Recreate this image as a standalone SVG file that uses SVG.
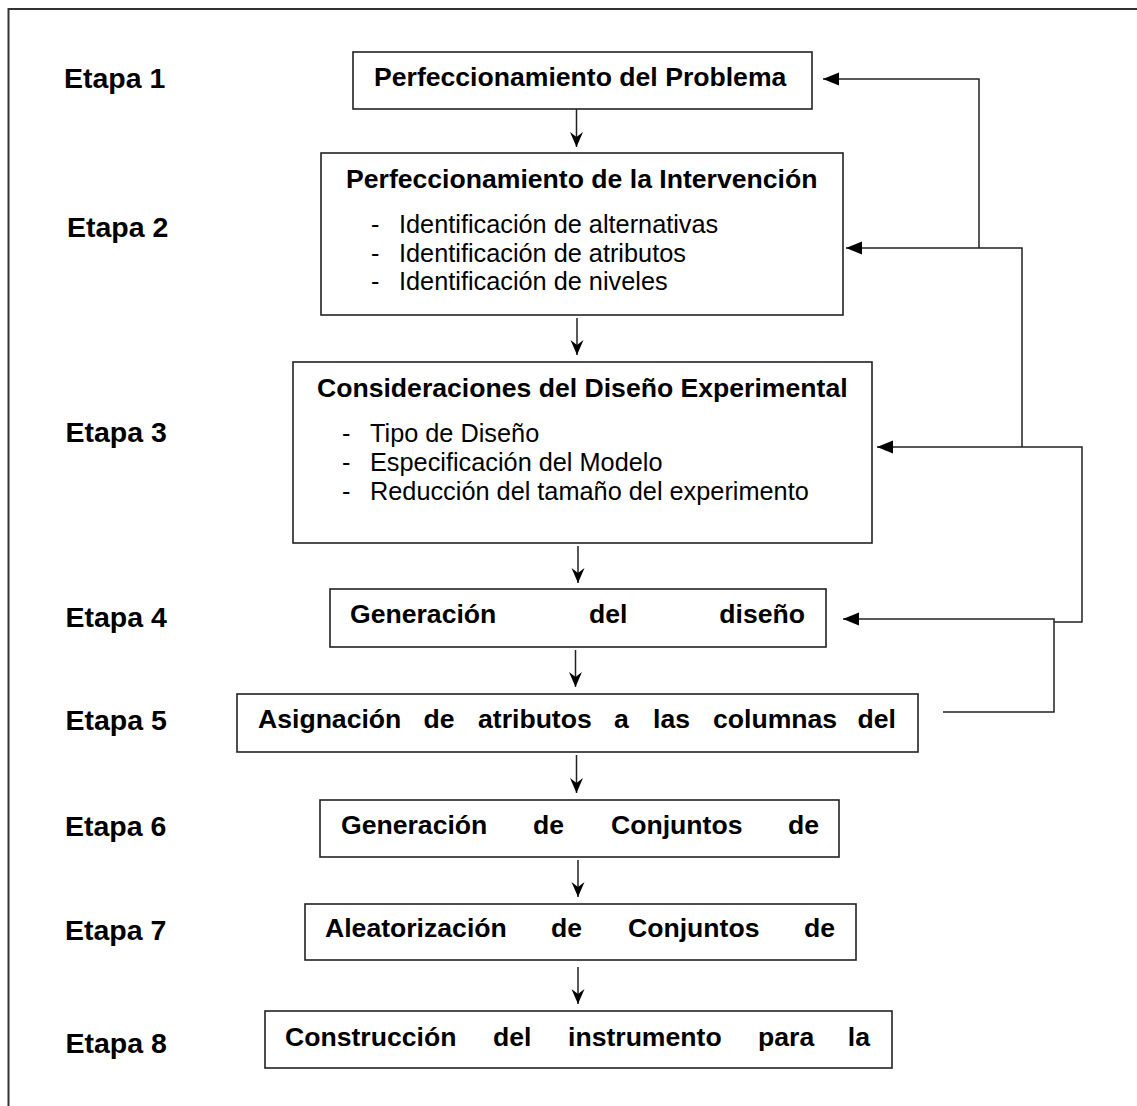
<svg xmlns="http://www.w3.org/2000/svg" width="1137" height="1106" viewBox="0 0 1137 1106">
<defs>
<style>
.box{fill:#fff;stroke:#222;stroke-width:1.6}
.lbl{font-family:"Liberation Sans",Arial,sans-serif;font-weight:bold;font-size:28.5px;fill:#000}
.ttl{font-family:"Liberation Sans",Arial,sans-serif;font-weight:bold;font-size:26.6px;fill:#000}
.itm{font-family:"Liberation Sans",Arial,sans-serif;font-size:25.3px;fill:#000}
.con{fill:none;stroke:#222;stroke-width:1.5}
.frame{fill:none;stroke:#333;stroke-width:2}
</style>
<marker id="down" markerUnits="userSpaceOnUse" markerWidth="16" markerHeight="14" refX="15" refY="7" orient="auto" viewBox="0 0 16 14">
<path d="M0,0.5 L15,7 L0,13.5 L5,7 Z" fill="#000"/>
</marker>
<marker id="left" markerUnits="userSpaceOnUse" markerWidth="16" markerHeight="14" refX="16" refY="7" orient="auto" viewBox="0 0 16 14">
<path d="M0,0.5 L16,7 L0,13.5 Z" fill="#000"/>
</marker>
</defs>
<rect width="1137" height="1106" fill="#fff"/>
<path class="frame" d="M8.5,1106 V9 H1137"/>

<g id="labels">
<text class="lbl" x="64" y="88">Etapa 1</text>
<text class="lbl" x="67" y="237">Etapa 2</text>
<text class="lbl" x="65.5" y="442">Etapa 3</text>
<text class="lbl" x="65.5" y="627">Etapa 4</text>
<text class="lbl" x="65.5" y="730">Etapa 5</text>
<text class="lbl" x="65" y="836">Etapa 6</text>
<text class="lbl" x="65" y="940">Etapa 7</text>
<text class="lbl" x="65.5" y="1053">Etapa 8</text>
</g>

<g id="connectors">
<line class="con" x1="576.5" y1="109" x2="576.5" y2="147" marker-end="url(#down)"/>
<line class="con" x1="577" y1="318" x2="577" y2="355" marker-end="url(#down)"/>
<line class="con" x1="578" y1="546" x2="578" y2="583" marker-end="url(#down)"/>
<line class="con" x1="575.5" y1="650" x2="575.5" y2="687" marker-end="url(#down)"/>
<line class="con" x1="576.5" y1="755" x2="576.5" y2="793" marker-end="url(#down)"/>
<line class="con" x1="578" y1="860" x2="578" y2="897" marker-end="url(#down)"/>
<line class="con" x1="578" y1="967" x2="578" y2="1004" marker-end="url(#down)"/>
<path class="con" d="M943,712 H1054 V619 H843" marker-end="url(#left)"/>
<path class="con" d="M1054,622 H1082 V447 H877" marker-end="url(#left)"/>
<path class="con" d="M1022,447 V248 H846" marker-end="url(#left)"/>
<path class="con" d="M979,248 V79 H823" marker-end="url(#left)"/>
</g>

<g id="n1">
<rect class="box" x="353" y="52" width="459" height="57"/>
<text class="ttl" x="374" y="86">Perfeccionamiento del Problema</text>
</g>
<g id="n2">
<rect class="box" x="321" y="153" width="522" height="162"/>
<text class="ttl" x="346" y="188">Perfeccionamiento de la Intervención</text>
<text class="itm" x="371" y="233">-</text><text class="itm" x="399" y="233">Identificación de alternativas</text>
<text class="itm" x="371" y="262">-</text><text class="itm" x="399" y="262">Identificación de atributos</text>
<text class="itm" x="371" y="290">-</text><text class="itm" x="399" y="290">Identificación de niveles</text>
</g>
<g id="n3">
<rect class="box" x="293" y="362" width="579" height="181"/>
<text class="ttl" x="317" y="397">Consideraciones del Diseño Experimental</text>
<text class="itm" x="342" y="442">-</text><text class="itm" x="370" y="442">Tipo de Diseño</text>
<text class="itm" x="342" y="471">-</text><text class="itm" x="370" y="471">Especificación del Modelo</text>
<text class="itm" x="342" y="500">-</text><text class="itm" x="370" y="500">Reducción del tamaño del experimento</text>
</g>
<g id="n4">
<rect class="box" x="330" y="589" width="496" height="58"/>
<text class="ttl" y="623"><tspan x="350">Generación</tspan><tspan x="589">del</tspan><tspan x="805" text-anchor="end">diseño</tspan></text>
</g>
<g id="n5">
<rect class="box" x="237" y="694" width="681" height="58"/>
<text class="ttl" y="728"><tspan x="258">Asignación</tspan><tspan x="423.5">de</tspan><tspan x="478">atributos</tspan><tspan x="614">a</tspan><tspan x="653">las</tspan><tspan x="713">columnas</tspan><tspan x="896" text-anchor="end">del</tspan></text>
</g>
<g id="n6">
<rect class="box" x="320" y="800" width="519" height="57"/>
<text class="ttl" y="834"><tspan x="341">Generación</tspan><tspan x="533">de</tspan><tspan x="611">Conjuntos</tspan><tspan x="819" text-anchor="end">de</tspan></text>
</g>
<g id="n7">
<rect class="box" x="305" y="904" width="551" height="56"/>
<text class="ttl" y="937"><tspan x="325">Aleatorización</tspan><tspan x="551">de</tspan><tspan x="628">Conjuntos</tspan><tspan x="835" text-anchor="end">de</tspan></text>
</g>
<g id="n8">
<rect class="box" x="265" y="1011" width="627" height="57"/>
<text class="ttl" y="1046"><tspan x="285">Construcción</tspan><tspan x="493">del</tspan><tspan x="568">instrumento</tspan><tspan x="758">para</tspan><tspan x="870" text-anchor="end">la</tspan></text>
</g>
</svg>
